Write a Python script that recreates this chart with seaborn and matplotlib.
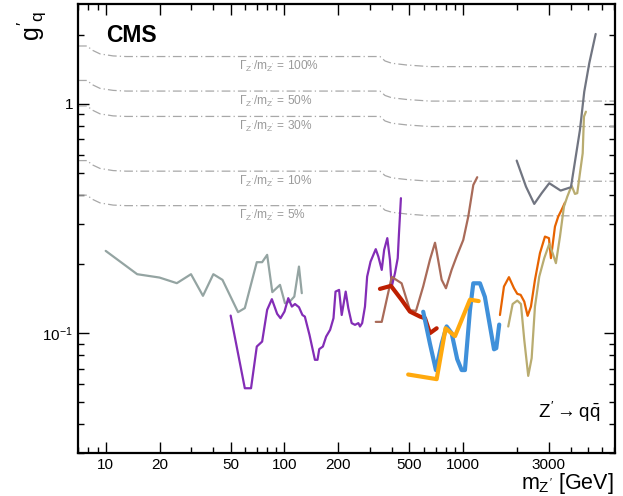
import numpy as np
import pandas as pd
import matplotlib
matplotlib.use("Agg")
import matplotlib.pyplot as plt
from matplotlib.ticker import FixedLocator, NullFormatter, LogLocator
import seaborn as sns

# ---------------- data ----------------
# reference width curves (g'_q at fixed Gamma/m)
width_mass = [7, 7.9, 8.35, 9.3, 11, 13, 342, 365, 398, 482, 650, 7000]
width_100 = [1.790, 1.790, 1.721, 1.653, 1.620, 1.610, 1.610, 1.540, 1.505, 1.479, 1.455, 1.455]
width_50 = [1.266, 1.266, 1.217, 1.169, 1.146, 1.138, 1.138, 1.089, 1.064, 1.046, 1.029, 1.029]
width_30 = [0.980, 0.980, 0.943, 0.905, 0.887, 0.882, 0.882, 0.843, 0.824, 0.810, 0.797, 0.797]
width_10 = [0.566, 0.566, 0.544, 0.523, 0.512, 0.509, 0.509, 0.487, 0.476, 0.468, 0.460, 0.460]
width_5 = [0.400, 0.400, 0.385, 0.370, 0.362, 0.360, 0.360, 0.344, 0.337, 0.331, 0.325, 0.325]
width_labels = ["100%", "50%", "30%", "10%", "5%"]
width_label_y = [1.455, 1.029, 0.797, 0.460, 0.325]

# exclusion limits
grey_m = [10, 15, 20, 25, 30, 35, 40, 45, 55, 60, 70, 75, 80, 85.5, 94.4, 100.6, 107, 113.5, 120.5, 125]
grey_g = [0.2285, 0.1808, 0.1748, 0.1652, 0.1808, 0.1455, 0.1808, 0.1708, 0.1235, 0.1286,
          0.204, 0.204, 0.2196, 0.151, 0.1624, 0.1351, 0.1373, 0.1444, 0.1952, 0.1494]

purple_m = [50, 60, 65, 70, 75, 80, 85, 91, 95, 100, 105, 110, 114.5, 120.5, 126, 130, 138, 148,
            153, 156.5, 164, 171, 180, 188, 193, 202, 209, 220, 227.5, 237.6, 248, 259, 264.5,
            272, 282, 290, 303, 324, 335, 350, 361, 376, 389, 398, 415, 430, 437, 448]
purple_g = [0.1193, 0.0575, 0.0575, 0.0874, 0.0919, 0.1264, 0.1407, 0.1214, 0.1162, 0.1242,
            0.1421, 0.1306, 0.134, 0.1298, 0.120, 0.1181, 0.0983, 0.0765, 0.0765, 0.0852, 0.0874,
            0.0966, 0.1034, 0.1162, 0.1518, 0.1544, 0.120, 0.1518, 0.1286, 0.1106, 0.1087,
            0.1106, 0.1069, 0.1106, 0.1306, 0.1765, 0.2052, 0.2325, 0.2158, 0.1888, 0.2308,
            0.2597, 0.2088, 0.1597, 0.1827, 0.2124, 0.2729, 0.388]

brown_m = [324, 350, 398, 452, 503, 544, 597, 651, 695, 710, 757, 800, 861, 918, 1000, 1067, 1138, 1197]
brown_g = [0.112, 0.112, 0.176, 0.165, 0.126, 0.125, 0.160, 0.209, 0.248, 0.227, 0.171, 0.157,
           0.189, 0.216, 0.255, 0.323, 0.443, 0.479]

darkred_m = [342, 394, 452, 503, 573, 611, 651, 710]
darkred_g = [0.156, 0.1608, 0.1397, 0.1242, 0.1181, 0.1162, 0.100, 0.105]

blue_m = [597, 651, 703, 757, 807, 861, 925, 980, 1022, 1090, 1138, 1240, 1321, 1400, 1486, 1530, 1589]
blue_g = [0.124, 0.090, 0.069, 0.090, 0.107, 0.100, 0.077, 0.069, 0.069, 0.126, 0.165, 0.165,
          0.144, 0.111, 0.085, 0.086, 0.109]

orange_m = [492, 710, 796, 899, 1090, 1220]
orange_g = [0.066, 0.063, 0.105, 0.097, 0.140, 0.138]

red_orange_m = [1604, 1689, 1801, 1921, 2005, 2094, 2194, 2291, 2391, 2518, 2685, 2864, 3015,
                3093, 3258, 3398, 3548, 3706]
red_orange_g = [0.120, 0.1597, 0.1755, 0.1571, 0.1484, 0.1469, 0.1373, 0.119, 0.1306, 0.1708,
                0.2233, 0.2638, 0.2597, 0.2124, 0.2916, 0.3225, 0.345, 0.3712]

khaki_m = [1785, 1889, 2005, 2102, 2194, 2309, 2413, 2518, 2661, 2838, 3027, 3162, 3298, 3475,
           3657, 3818, 4037, 4214, 4341, 4494, 4656, 4732, 4853]
khaki_g = [0.1069, 0.134, 0.1387, 0.134, 0.0934, 0.0651, 0.0778, 0.1306, 0.1765, 0.2124, 0.245,
           0.2233, 0.202, 0.2638, 0.3565, 0.394, 0.44, 0.405, 0.408, 0.4985, 0.6095, 0.880, 0.925]

slate_m = [1990, 2243, 2495, 2745, 3027, 3505, 4002, 4494, 4751, 5067, 5503]
slate_g = [0.566, 0.4358, 0.3663, 0.408, 0.451, 0.4188, 0.4332, 0.77, 1.131, 1.505, 2.02]

x_ticks = [10, 20, 50, 100, 200, 500, 1000, 3000]
x_tick_labels = ["10", "20", "50", "100", "200", "500", "1000", "3000"]
y_ticks = [0.1, 1]
y_tick_labels = [r"$10^{-1}$", "1"]

# ---------------- style ----------------
sns.set_theme(style="ticks")
plt.rcParams["font.family"] = ["Liberation Sans", "DejaVu Sans"]
plt.rcParams["mathtext.fontset"] = "custom"
plt.rcParams["mathtext.rm"] = "Liberation Sans"
plt.rcParams["mathtext.it"] = "Liberation Sans"
plt.rcParams["mathtext.bf"] = "Liberation Sans:bold"
plt.rcParams["text.color"] = "black"
plt.rcParams["axes.labelcolor"] = "black"

fig = plt.figure(figsize=(6.23, 4.96), dpi=100)
ax = fig.add_axes([0.1252, 0.0867, 0.8618, 0.9053])

# width curves
wcol = "#a8a8a8"
for vals in [width_100, width_50, width_30, width_10, width_5]:
    df = pd.DataFrame({"m": width_mass, "g": vals})
    sns.lineplot(data=df, x="m", y="g", ax=ax, color=wcol, lw=0.9,
                 linestyle=(0, (7, 2.5, 1, 2.5)), sort=False, estimator=None)
for lab, yv in zip(width_labels, width_label_y):
    ax.text(56, yv, r"$\Gamma_{Z'}/m_{Z'}$ = " + lab, color="#9a9a9a",
            fontsize=8.6, va="center", ha="left")

series = [
    (grey_m, grey_g, "#94a4a2", 1.6),
    (purple_m, purple_g, "#832db6", 1.6),
    (brown_m, brown_g, "#a96b59", 1.6),
    (darkred_m, darkred_g, "#bd1f01", 3.0),
    (blue_m, blue_g, "#3f90da", 3.0),
    (orange_m, orange_g, "#ffa90e", 3.0),
    (red_orange_m, red_orange_g, "#e76300", 1.6),
    (khaki_m, khaki_g, "#b9ac70", 1.6),
    (slate_m, slate_g, "#717581", 1.6),
]
for mm, gg, c, lw in series:
    df = pd.DataFrame({"m": mm, "g": gg})
    sns.lineplot(data=df, x="m", y="g", ax=ax, color=c, lw=lw, sort=False, estimator=None)

ax.set_xscale("log")
ax.set_yscale("log")
ax.set_xlim(7.0, 7050)
ax.set_ylim(0.030, 2.73)

ax.xaxis.set_major_locator(FixedLocator(x_ticks))
ax.set_xticklabels(x_tick_labels)
ax.xaxis.set_minor_locator(LogLocator(base=10, subs=np.arange(1, 10)))
ax.xaxis.set_minor_formatter(NullFormatter())
ax.yaxis.set_major_locator(FixedLocator(y_ticks))
ax.set_yticklabels(y_tick_labels)
ax.yaxis.set_minor_locator(LogLocator(base=10, subs=np.arange(1, 10)))
ax.yaxis.set_minor_formatter(NullFormatter())

ax.tick_params(which="both", direction="in", top=True, right=True, colors="black",
               labelcolor="black", labelsize=11, width=1.0)
ax.tick_params(which="major", length=8)
ax.tick_params(which="minor", length=4.5)
for s in ax.spines.values():
    s.set_visible(True)
    s.set_linewidth(1.6)
    s.set_color("black")

ax.set_xlabel(r"$m_{Z'}$ [GeV]", fontsize=15.5, ha="right", va="center")
ax.xaxis.set_label_coords(0.997, -0.067)
ax.set_ylabel(r"$g'_{q}$", fontsize=18, ha="right", va="center")
ax.yaxis.set_label_coords(-0.085, 0.985)

ax.text(0.052, 0.929, "CMS", transform=ax.transAxes, fontsize=16.5, fontweight="bold",
        va="center", ha="left", color="black")
ax.text(0.972, 0.0913, r"$Z' \rightarrow q\bar{q}$", transform=ax.transAxes, fontsize=13.5,
        va="center", ha="right", color="black")

fig.savefig("out.png", dpi=100)
